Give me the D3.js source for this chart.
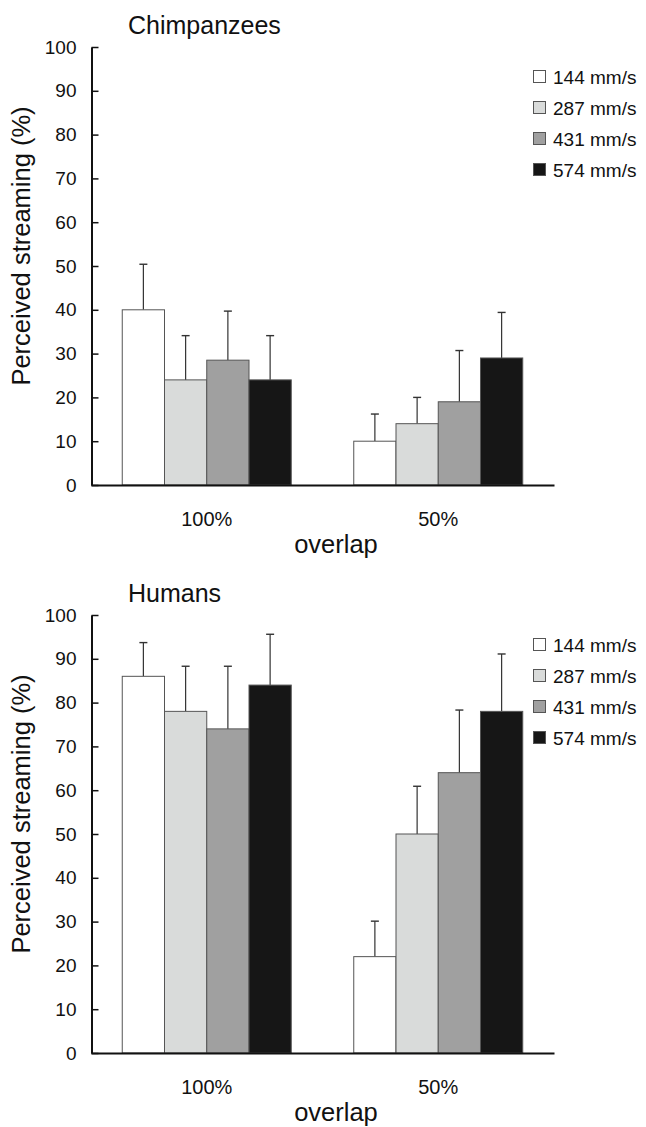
<!DOCTYPE html>
<html>
<head>
<meta charset="utf-8">
<script src="https://cdn.jsdelivr.net/npm/d3@7"></script>
<style>
  html, body { margin: 0; padding: 0; background: #fff; }
  svg { display: block; font-family: "Liberation Sans", Arial, Helvetica, sans-serif; }
</style>
</head>
<body>
<svg id="chart" width="646" height="1127"></svg>
<script>
// ---- data ----
const categories = ["100%", "50%"];
const series = ["144 mm/s", "287 mm/s", "431 mm/s", "574 mm/s"];
const yTicks = [0, 10, 20, 30, 40, 50, 60, 70, 80, 90, 100];

// Chimpanzees: mean per speed for each overlap category, and SE (upper bars)
const chimpMeans100 = [40, 24, 28.5, 24];
const chimpMeans50  = [10, 14, 19, 29];
const chimpErr100   = [10.4, 10.1, 11.2, 10.1];
const chimpErr50    = [6.2, 6, 11.7, 10.4];

// Humans
const humanMeans100 = [86, 78, 74, 84];
const humanMeans50  = [22, 50, 64, 78];
const humanErr100   = [7.7, 10.3, 14.3, 11.6];
const humanErr50    = [8.1, 10.9, 14.3, 13.1];

const colors = ["#ffffff", "#d9dbda", "#a0a0a0", "#161616"];

const panels = [
  { title: "Chimpanzees", means: [chimpMeans100, chimpMeans50], errs: [chimpErr100, chimpErr50], top: 0 },
  { title: "Humans",      means: [humanMeans100, humanMeans50], errs: [humanErr100, humanErr50], top: 568 }
];

const svg = d3.select("#chart");

const x0 = d3.scaleBand().domain(categories).range([91, 554]).paddingInner(0.27).paddingOuter(0.135);
const x1 = d3.scaleBand().domain(series).range([0, x0.bandwidth()]).padding(0);
const color = d3.scaleOrdinal().domain(series).range(colors);

panels.forEach(p => {
  const g = svg.append("g").attr("transform", `translate(0,${p.top})`);
  const y = d3.scaleLinear().domain([0, 100]).range([485, 47]);

  // title
  g.append("text").attr("x", 128).attr("y", 34)
    .attr("font-size", 25).attr("fill", "#111").text(p.title);

  // y label
  g.append("text")
    .attr("transform", "translate(30,246) rotate(-90)")
    .attr("text-anchor", "middle")
    .attr("font-size", 25.5).attr("fill", "#111")
    .text("Perceived streaming (%)");

  // bars
  const rows = categories.map((c, i) => ({ cat: c, vals: series.map((s, j) => ({ s, v: p.means[i][j], e: p.errs[i][j] })) }));
  const cg = g.selectAll("g.cat").data(rows).join("g").attr("class", "cat")
    .attr("transform", d => `translate(${x0(d.cat)},0)`);

  // error bars (behind bars)
  cg.each(function(d) {
    const eg = d3.select(this);
    d.vals.forEach(o => {
      const cx = x1(o.s) + x1.bandwidth() / 2;
      eg.append("line").attr("x1", cx).attr("x2", cx)
        .attr("y1", y(o.v)).attr("y2", y(o.v + o.e))
        .attr("stroke", "#333").attr("stroke-width", 1.2);
      eg.append("line").attr("x1", cx - 4).attr("x2", cx + 4)
        .attr("y1", y(o.v + o.e)).attr("y2", y(o.v + o.e))
        .attr("stroke", "#333").attr("stroke-width", 1.4);
    });
  });

  cg.selectAll("rect").data(d => d.vals).join("rect")
    .attr("x", d => x1(d.s))
    .attr("y", d => y(d.v))
    .attr("width", x1.bandwidth())
    .attr("height", d => y(0) - y(d.v))
    .attr("fill", d => color(d.s))
    .attr("stroke", "#555").attr("stroke-width", 1);

  // y axis (ticks inward)
  const ya = g.append("g").attr("transform", "translate(91.5,0)")
    .call(d3.axisLeft(y).tickValues(yTicks).tickSizeInner(-7).tickSizeOuter(0).tickPadding(15));
  ya.select(".domain").attr("stroke", "#111").attr("stroke-width", 2);
  ya.selectAll(".tick line").attr("stroke", "#111").attr("stroke-width", 1.5);
  ya.selectAll(".tick text").attr("font-size", 19).attr("fill", "#111")
    .attr("font-family", "Liberation Sans, Arial, sans-serif");

  // x axis
  const xa = g.append("g").attr("transform", "translate(0,485)")
    .call(d3.axisBottom(x0).tickSize(0).tickPadding(27));
  xa.select(".domain").attr("stroke", "#111").attr("stroke-width", 2);
  xa.selectAll(".tick text").attr("font-size", 20).attr("fill", "#111")
    .attr("font-family", "Liberation Sans, Arial, sans-serif");

  // x label
  g.append("text").attr("x", 336).attr("y", 553)
    .attr("text-anchor", "middle").attr("font-size", 25.5).attr("fill", "#111")
    .text("overlap");

  // legend
  const lg = g.append("g");
  series.forEach((s, i) => {
    const cy = 77 + i * 31;
    lg.append("rect").attr("x", 533.5).attr("y", cy - 6.5).attr("width", 12).attr("height", 12)
      .attr("fill", color(s)).attr("stroke", "#555").attr("stroke-width", 1);
    lg.append("text").attr("x", 553).attr("y", cy).attr("dy", "0.35em")
      .attr("font-size", 19).attr("fill", "#111").text(s);
  });
});
</script>
</body>
</html>
